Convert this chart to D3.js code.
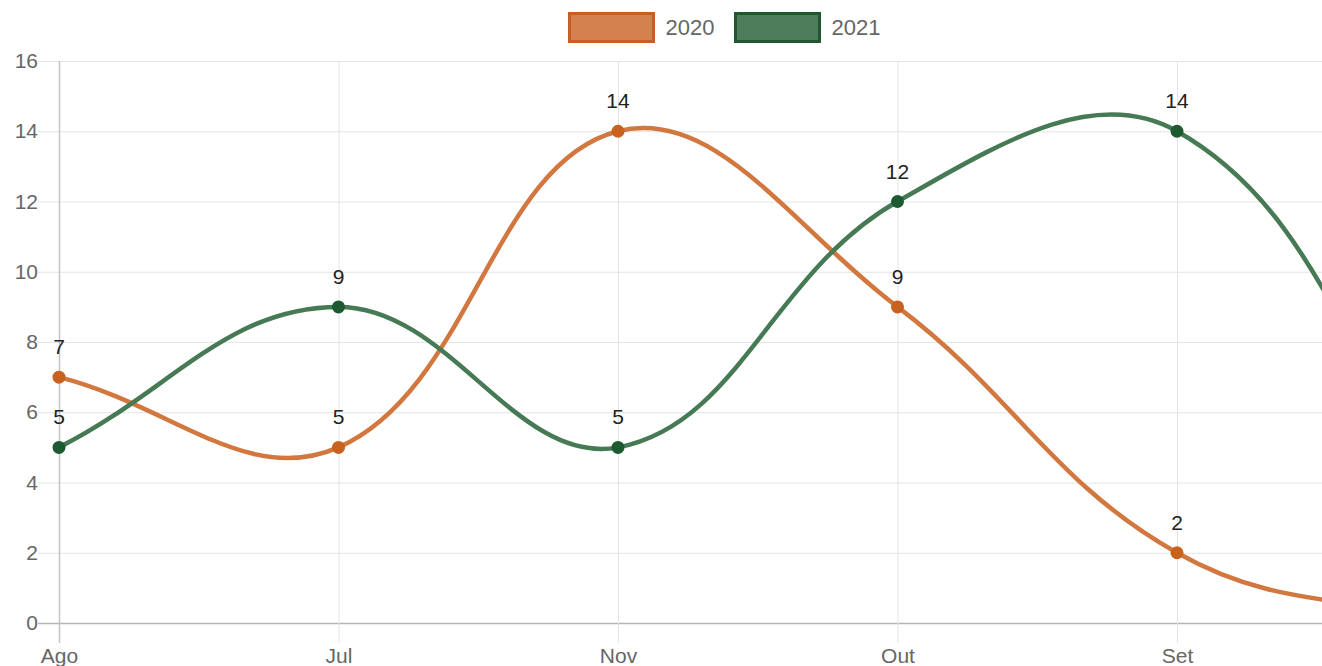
<!DOCTYPE html>
<html><head><meta charset="utf-8">
<script src="https://cdn.jsdelivr.net/npm/d3@7"></script>
<style>html,body{margin:0;padding:0;overflow:hidden;background:#fff}</style>
</head><body><svg id="c" width="1322" height="666"></svg>
<script>
const categories = ["Ago", "Jul", "Nov", "Out", "Set", ""];
const values2020 = [7, 5, 14, 9, 2, 0];
const values2021 = [5, 9, 5, 12, 14, 3];
const seriesNames = ["2020", "2021"];
const yTicks = [0, 2, 4, 6, 8, 10, 12, 14, 16];

const W = 1322, H = 666;
const FONT = "'Liberation Sans', Arial, Helvetica, sans-serif";
const area = {left: 59, top: 61, right: 1456.5, bottom: 623};
const svg = d3.select("#c");

const x = d3.scalePoint().domain(categories).range([area.left, area.right]);
const y = d3.scaleLinear().domain([0, 16]).range([area.bottom, area.top]);

const series = [
  {name: seriesNames[0], values: values2020, line: "#d2783f", point: "#c9621f", fill: "#d4804f", border: "#c65f26"},
  {name: seriesNames[1], values: values2021, line: "#467a55", point: "#1d5a32", fill: "#4e7d5c", border: "#21562f"}
];

// Y axis + horizontal gridlines
const gy = svg.append("g").attr("transform", `translate(${area.left},0)`)
  .call(d3.axisLeft(y).tickValues(yTicks).tickSize(0).tickPadding(21));
gy.select(".domain").remove();
gy.selectAll(".tick text").attr("fill", "#666").style("font-family", FONT).style("font-size", "21px");
gy.selectAll(".tick").insert("line", "text")
  .attr("x1", -21).attr("x2", W)
  .attr("stroke", d => d === 0 ? "#b5b5b5" : "#e4e4e4")
  .attr("stroke-width", d => d === 0 ? 1.5 : 1);

// X axis + vertical gridlines (only categories inside the visible page)
const gx = svg.append("g").attr("transform", `translate(0,${area.bottom})`)
  .call(d3.axisBottom(x).tickValues(categories.filter(c => x(c) < W)).tickSize(0).tickPadding(25));
gx.select(".domain").remove();
gx.selectAll(".tick text").attr("fill", "#666").style("font-family", FONT).style("font-size", "21px");
gx.selectAll(".tick").insert("line", "text")
  .attr("y1", area.top - area.bottom).attr("y2", 20)
  .attr("stroke", (d, i) => i === 0 ? "#c4c4c4" : "#e4e4e4")
  .attr("stroke-width", (d, i) => i === 0 ? 1.5 : 1);

// Chart.js-style bezier spline (tension 0.4)
function splinePath(pts, t) {
  const n = pts.length;
  const cps = pts.map((p, i) => {
    const prev = pts[Math.max(i - 1, 0)], next = pts[Math.min(i + 1, n - 1)];
    const d01 = Math.hypot(p[0] - prev[0], p[1] - prev[1]);
    const d12 = Math.hypot(next[0] - p[0], next[1] - p[1]);
    let s01 = d01 / (d01 + d12), s12 = d12 / (d01 + d12);
    if (isNaN(s01)) s01 = 0; if (isNaN(s12)) s12 = 0;
    const fa = t * s01, fb = t * s12;
    const cap = (v, lo, hi) => Math.max(lo, Math.min(hi, v));
    return {
      px: cap(p[0] - fa * (next[0] - prev[0]), area.left, area.right),
      py: cap(p[1] - fa * (next[1] - prev[1]), area.top, area.bottom),
      nx: cap(p[0] + fb * (next[0] - prev[0]), area.left, area.right),
      ny: cap(p[1] + fb * (next[1] - prev[1]), area.top, area.bottom)
    };
  });
  const path = d3.path();
  path.moveTo(pts[0][0], pts[0][1]);
  for (let i = 1; i < n; i++) {
    path.bezierCurveTo(cps[i - 1].nx, cps[i - 1].ny, cps[i].px, cps[i].py, pts[i][0], pts[i][1]);
  }
  return path.toString();
}

series.forEach(s => {
  const pts = s.values.map((v, i) => [x(categories[i]), y(v)]);
  svg.append("path").attr("d", splinePath(pts, 0.4))
    .attr("fill", "none").attr("stroke", s.line).attr("stroke-width", 4.5);
});
series.forEach(s => {
  const pts = s.values.map((v, i) => ({x: x(categories[i]), y: y(v), v})).filter(d => d.x < W);
  svg.append("g").selectAll("circle").data(pts).join("circle")
    .attr("cx", d => d.x).attr("cy", d => d.y).attr("r", 5.5)
    .attr("fill", s.point).attr("stroke", s.point).attr("stroke-width", 2);
  svg.append("g").selectAll("text").data(pts).join("text")
    .attr("x", d => d.x).attr("y", d => d.y - 23)
    .attr("text-anchor", "middle").attr("fill", "#222")
    .style("font-family", FONT).style("font-size", "21px")
    .text(d => d.v);
});

// Legend
const legendX = [569.5, 735.5];
series.forEach((s, i) => {
  const g = svg.append("g");
  g.append("rect").attr("x", legendX[i]).attr("y", 13.5).attr("width", 84).attr("height", 28)
    .attr("fill", s.fill).attr("stroke", s.border).attr("stroke-width", 3);
  g.append("text").attr("x", legendX[i] + 96).attr("y", 34.5)
    .attr("fill", "#666").style("font-family", FONT).style("font-size", "22px")
    .text(s.name);
});
</script></body></html>
